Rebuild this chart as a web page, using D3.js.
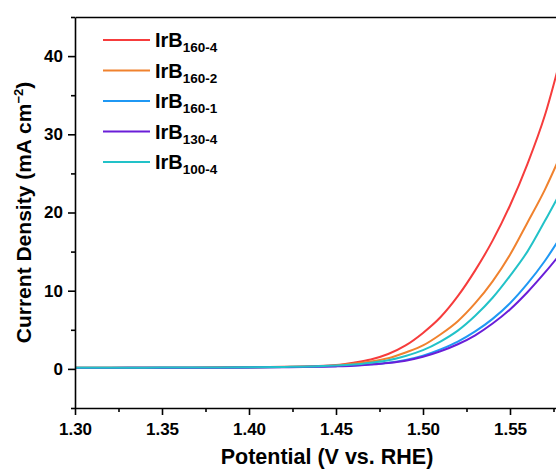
<!DOCTYPE html>
<html>
<head>
<meta charset="utf-8">
<script src="https://cdn.jsdelivr.net/npm/d3@7"></script>
<style>
  html, body { margin: 0; padding: 0; background: #fff; }
  svg { display: block; }
  text { font-family: "Liberation Sans", Arial, sans-serif; font-weight: bold; fill: #000; }
</style>
</head>
<body>
<svg id="chart" width="556" height="470"></svg>
<script>
// Polarization (LSV) curves, potential in V vs. RHE, current density in mA cm^-2
const potential = [1.30, 1.32, 1.34, 1.36, 1.38, 1.40, 1.42, 1.44, 1.45, 1.46, 1.47,
                   1.48, 1.49, 1.50, 1.51, 1.52, 1.53, 1.54, 1.55, 1.56, 1.57, 1.58];

const irb160_4 = [0.15, 0.14, 0.15, 0.16, 0.17, 0.20, 0.26, 0.36, 0.50, 0.80, 1.20,
                  1.90, 3.00, 4.60, 6.60, 9.30, 12.6, 16.4, 20.9, 26.2, 32.4, 40.5];
const irb160_2 = [0.15, 0.15, 0.15, 0.16, 0.17, 0.20, 0.25, 0.34, 0.45, 0.65, 0.95,
                  1.35, 2.10, 3.00, 4.40, 6.10, 8.40, 11.2, 14.6, 18.7, 22.9, 27.8];
const irb160_1 = [0.14, 0.14, 0.15, 0.15, 0.16, 0.19, 0.23, 0.30, 0.36, 0.45, 0.60,
                  0.80, 1.15, 1.70, 2.50, 3.50, 4.80, 6.40, 8.40, 10.9, 13.8, 17.2];
const irb130_4 = [0.13, 0.13, 0.14, 0.14, 0.15, 0.17, 0.21, 0.27, 0.32, 0.40, 0.55,
                  0.75, 1.05, 1.55, 2.25, 3.15, 4.30, 5.80, 7.60, 9.80, 12.3, 15.0];
const irb100_4 = [0.16, 0.15, 0.16, 0.17, 0.18, 0.20, 0.25, 0.33, 0.42, 0.56, 0.80,
                  1.10, 1.65, 2.40, 3.50, 4.90, 6.80, 9.10, 11.9, 15.0, 18.9, 23.0];

const seriesNames = ["IrB", "IrB", "IrB", "IrB", "IrB"];
const seriesSubs  = ["160-4", "160-2", "160-1", "130-4", "100-4"];
const seriesData  = [irb160_4, irb160_2, irb160_1, irb130_4, irb100_4];
const seriesColors = ["#f63c3c", "#f0822e", "#1f98f4", "#6a1ed8", "#22c2c8"];

const xTicks = [1.30, 1.35, 1.40, 1.45, 1.50, 1.55];
const xMinor = [1.325, 1.375, 1.425, 1.475, 1.525, 1.575];
const yTicks = [0, 10, 20, 30, 40];
const yMinor = [-5, 5, 15, 25, 35, 45];

const svg = d3.select("#chart");
const plotLeft = 75, plotRight = 597, plotTop = 17, plotBottom = 408;

const x = d3.scaleLinear().domain([1.30, 1.60]).range([plotLeft, plotRight]);
const y = d3.scaleLinear().domain([-5, 45]).range([plotBottom, plotTop]);

svg.append("defs").append("clipPath").attr("id", "plotClip")
  .append("rect").attr("x", plotLeft).attr("y", plotTop)
  .attr("width", plotRight - plotLeft).attr("height", plotBottom - plotTop);

// curves (cyan drawn last so it sits on top in the flat region)
const line = d3.line().x((d, i) => x(potential[i])).y(d => y(d)).curve(d3.curveMonotoneX);
const drawOrder = [0, 1, 2, 3, 4];
const curves = svg.append("g").attr("clip-path", "url(#plotClip)");
drawOrder.forEach(k => {
  curves.append("path")
    .datum(seriesData[k])
    .attr("d", line)
    .attr("fill", "none")
    .attr("stroke", seriesColors[k])
    .attr("stroke-width", 2)
    .attr("stroke-linejoin", "round");
});

// axes
function styleAxis(g) {
  g.selectAll("path.domain").attr("stroke", "#000").attr("stroke-width", 1.6);
  g.selectAll(".tick line").attr("stroke", "#000").attr("stroke-width", 1.6);
  g.selectAll(".tick text")
    .style("font-family", "'Liberation Sans', Arial, sans-serif")
    .style("font-weight", "bold")
    .style("font-size", "17px")
    .attr("fill", "#000");
}

const xAxis = svg.append("g").attr("transform", `translate(0,${plotBottom})`)
  .call(d3.axisBottom(x).tickValues(xTicks).tickFormat(d3.format(".2f"))
    .tickSize(7).tickSizeOuter(0).tickPadding(8));
styleAxis(xAxis);
svg.append("g").attr("transform", `translate(0,${plotBottom})`)
  .call(d3.axisBottom(x).tickValues(xMinor).tickFormat("").tickSize(4).tickSizeOuter(0))
  .call(g => { g.select("path.domain").remove(); styleAxis(g); });

const yAxis = svg.append("g").attr("transform", `translate(${plotLeft},0)`)
  .call(d3.axisLeft(y).tickValues(yTicks).tickFormat(d3.format("d"))
    .tickSize(7).tickSizeOuter(0).tickPadding(5));
styleAxis(yAxis);
svg.append("g").attr("transform", `translate(${plotLeft},0)`)
  .call(d3.axisLeft(y).tickValues(yMinor).tickFormat("").tickSize(4).tickSizeOuter(0))
  .call(g => { g.select("path.domain").remove(); styleAxis(g); });

// top frame line
svg.append("g").attr("transform", `translate(0,${plotTop})`)
  .call(d3.axisTop(x).tickValues([]).tickSizeOuter(0))
  .call(styleAxis);

// axis titles
svg.append("text")
  .attr("x", 327).attr("y", 464)
  .attr("text-anchor", "middle")
  .style("font-size", "21.5px")
  .text("Potential (V vs. RHE)");

const yTitle = svg.append("text")
  .attr("transform", `translate(31,${(plotTop + plotBottom) / 2}) rotate(-90)`)
  .attr("text-anchor", "middle")
  .style("font-size", "21px");
yTitle.append("tspan").text("Current Density (mA cm");
yTitle.append("tspan").attr("dy", -8).style("font-size", "13px").text("\u22122");
yTitle.append("tspan").attr("dy", 8).text(")");

// legend
const legendY0 = 40, legendStep = 30.5;
seriesData.forEach((s, k) => {
  const ly = legendY0 + k * legendStep;
  svg.append("line")
    .attr("x1", 103).attr("x2", 150).attr("y1", ly).attr("y2", ly)
    .attr("stroke", seriesColors[k]).attr("stroke-width", 2);
  const t = svg.append("text").attr("x", 155).attr("y", ly + 7).style("font-size", "20px");
  t.append("tspan").text(seriesNames[k]);
  t.append("tspan").attr("dy", 5).style("font-size", "13.5px").text(seriesSubs[k]);
});
</script>
</body>
</html>
